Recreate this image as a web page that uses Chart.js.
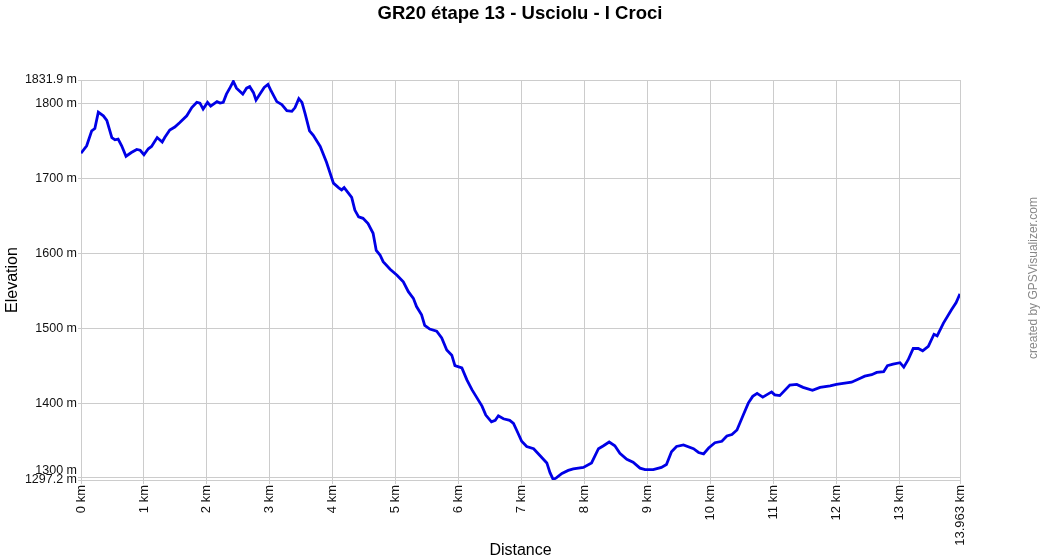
<!DOCTYPE html>
<html>
<head>
<meta charset="utf-8">
<script src="https://cdn.jsdelivr.net/npm/chart.js@4"></script>
<style>
  html, body { margin: 0; padding: 0; background: #fff; }
  #wrap { width: 1040px; height: 560px; }
</style>
</head>
<body>
<div id="wrap"><canvas id="profile" width="1040" height="560"></canvas></div>
<script>
const titleText = "GR20 étape 13 - Usciolu - I Croci";
const creditText = "created by GPSVisualizer.com";

// distance along the track (km) and elevation (m)
const distKm = [
    0, 0.09, 0.17, 0.22, 0.275, 0.355, 0.41, 0.49, 0.54, 0.59, 0.646, 0.715, 0.80, 0.885, 0.94,
    1.0, 1.07, 1.12, 1.21, 1.29, 1.33, 1.41, 1.49, 1.57, 1.68, 1.76, 1.84, 1.89, 1.94,
    2.01, 2.06, 2.16, 2.21, 2.26, 2.31, 2.37, 2.42, 2.47, 2.57, 2.63, 2.68, 2.74, 2.78, 2.84, 2.91, 2.97,
    3.01, 3.11, 3.19, 3.27, 3.35, 3.40, 3.46, 3.51, 3.56, 3.63, 3.69, 3.80, 3.90,
    4.01, 4.09, 4.14, 4.18, 4.30, 4.35, 4.41, 4.48, 4.56, 4.64, 4.69, 4.75, 4.80, 4.91,
    5.02, 5.12, 5.20, 5.28, 5.33, 5.41, 5.46, 5.54, 5.65, 5.73, 5.81, 5.89, 5.94,
    6.05, 6.13, 6.21, 6.29, 6.37, 6.43, 6.52, 6.58, 6.63, 6.71, 6.81, 6.87, 6.93,
    7.00, 7.08, 7.19, 7.29, 7.40, 7.45, 7.50, 7.55, 7.64, 7.74, 7.82, 7.98,
    8.11, 8.22, 8.30, 8.39, 8.48, 8.56, 8.67, 8.77, 8.88, 8.96,
    9.09, 9.22, 9.30, 9.38, 9.46, 9.57, 9.73, 9.81, 9.89, 9.97,
    10.07, 10.18, 10.26, 10.34, 10.42, 10.52, 10.60, 10.67, 10.74, 10.83, 10.97,
    11.02, 11.10, 11.26, 11.37, 11.47, 11.62, 11.74, 11.90,
    12.00, 12.16, 12.24, 12.37, 12.45, 12.56, 12.64, 12.75, 12.81, 12.90,
    13.01, 13.07, 13.14, 13.22, 13.30, 13.37, 13.46, 13.55, 13.60, 13.70, 13.83, 13.90, 13.963
];
const elevM = [
    1734, 1744, 1764, 1767, 1789, 1784, 1778, 1755, 1752, 1753, 1744, 1730, 1735, 1739, 1738,
    1732, 1740, 1743, 1755, 1749, 1755, 1765, 1769, 1775, 1784, 1795, 1802, 1801, 1793,
    1802, 1797, 1803, 1801, 1802, 1813, 1822, 1830, 1821, 1813, 1821, 1823, 1815, 1805, 1813, 1822, 1826,
    1819, 1803, 1799, 1791, 1790, 1795, 1807, 1802, 1787, 1764, 1758, 1743, 1722,
    1694, 1688, 1685, 1688, 1675, 1658, 1649, 1647, 1640, 1627, 1604, 1598, 1589, 1579,
    1571, 1562, 1549, 1540, 1529, 1518, 1504, 1499, 1496, 1487, 1471, 1464, 1450,
    1447, 1431, 1418, 1407, 1396, 1384, 1375, 1377, 1383, 1379, 1377, 1373, 1362,
    1349, 1342, 1339, 1330, 1320, 1307, 1298, 1300, 1306, 1310, 1312, 1314,
    1320, 1339, 1343, 1348, 1343, 1333, 1325, 1321, 1313, 1311,
    1311, 1314, 1318, 1335, 1342, 1344, 1339, 1334, 1332, 1340,
    1347, 1349, 1356, 1358, 1364, 1384, 1400, 1409, 1413, 1408, 1415,
    1411, 1410, 1424, 1425, 1421, 1417, 1421, 1423,
    1425, 1427, 1428, 1433, 1436, 1438, 1441, 1442, 1450, 1452,
    1454, 1448, 1458, 1473, 1473, 1470, 1476, 1492, 1490, 1507, 1525, 1534, 1546
];

const xTicks = [0, 1, 2, 3, 4, 5, 6, 7, 8, 9, 10, 11, 12, 13, 13.963];
const yTicks = [1297.2, 1300, 1400, 1500, 1600, 1700, 1800, 1831.9];

const points = distKm.map((d, i) => ({ x: d, y: elevM[i] }));

// title centred on the whole page, credit line up the right edge
const textPlugin = {
    id: "pageText",
    afterDraw(chart) {
        const ctx = chart.ctx;
        ctx.save();
        ctx.font = "bold 18.5px Arial, 'Liberation Sans', sans-serif";
        ctx.fillStyle = "#000";
        ctx.textAlign = "center";
        ctx.textBaseline = "middle";
        ctx.fillText(titleText, 520, 14);
        ctx.translate(1034, 278);
        ctx.rotate(-Math.PI / 2);
        ctx.font = "12px Arial, 'Liberation Sans', sans-serif";
        ctx.fillStyle = "#888888";
        ctx.fillText(creditText, 0, 0);
        ctx.restore();
    }
};

new Chart(document.getElementById("profile"), {
    type: "line",
    data: {
        datasets: [{
            data: points,
            borderColor: "#0000e6",
            borderWidth: 2.8,
            pointRadius: 0,
            tension: 0,
            fill: false
        }]
    },
    plugins: [textPlugin],
    options: {
        responsive: false,
        animation: false,
        layout: { padding: { top: 80, right: 80, bottom: 0, left: 0 } },
        plugins: {
            legend: { display: false },
            tooltip: { enabled: false },
            title: { display: false }
        },
        scales: {
            x: {
                type: "linear",
                min: 0,
                max: 13.963,
                afterBuildTicks: (scale) => { scale.ticks = xTicks.map(v => ({ value: v })); },
                afterFit: (scale) => { scale.height = 80; },
                grid: { color: "#cccccc", tickLength: 4 },
                border: { color: "#cccccc" },
                ticks: {
                    autoSkip: false,
                    minRotation: 90,
                    maxRotation: 90,
                    padding: 1,
                    color: "#111",
                    font: { family: "Arial, 'Liberation Sans', sans-serif", size: 13 },
                    callback: (v) => v + " km"
                },
                title: {
                    display: true,
                    text: "Distance",
                    color: "#000",
                    font: { family: "Arial, 'Liberation Sans', sans-serif", size: 16 },
                    padding: { top: 0, bottom: 0 }
                }
            },
            y: {
                type: "linear",
                min: 1297.2,
                max: 1831.9,
                afterBuildTicks: (scale) => { scale.ticks = yTicks.map(v => ({ value: v })); },
                afterFit: (scale) => { scale.width = 81; },
                grid: { color: "#cccccc", tickLength: 3 },
                border: { color: "#cccccc" },
                ticks: {
                    autoSkip: false,
                    padding: 1,
                    color: "#111",
                    font: { family: "Arial, 'Liberation Sans', sans-serif", size: 12.5 },
                    callback: (v) => v === 1300 ? ["1300 m", ""] : v + " m"
                },
                title: {
                    display: true,
                    text: "Elevation",
                    color: "#000",
                    font: { family: "Arial, 'Liberation Sans', sans-serif", size: 16 },
                    padding: { top: 3, bottom: 0 }
                }
            }
        }
    }
});
</script>
</body>
</html>
